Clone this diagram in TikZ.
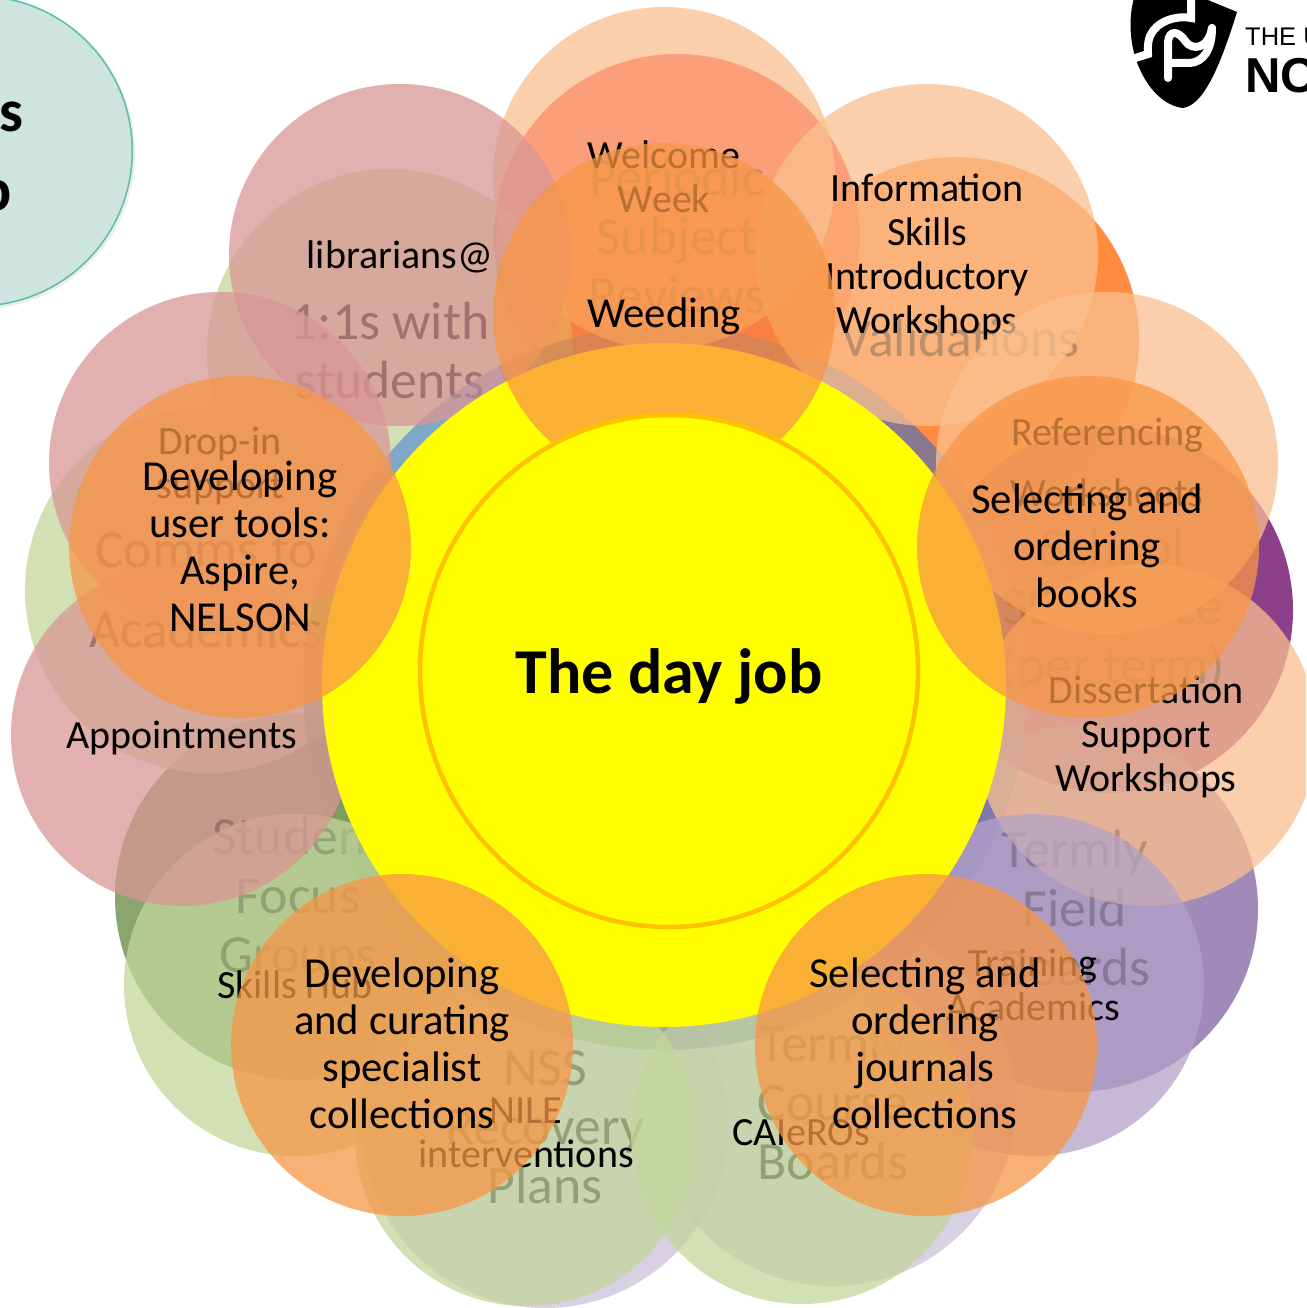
\documentclass[tikz,border=0pt]{standalone}
\usepackage{fontspec}
\usetikzlibrary{shapes.geometric}
\setmainfont{Carlito}
\newfontfamily\logofont{Liberation Sans}
\definecolor{pkA}{RGB}{217,150,148}
\definecolor{grA}{RGB}{195,214,155}
\definecolor{puA}{RGB}{179,162,199}
\definecolor{peA}{RGB}{250,192,143}
\definecolor{lavA}{RGB}{204,193,218}
\definecolor{fieldC}{RGB}{128,100,162}
\definecolor{schoolC}{RGB}{102,0,102}
\definecolor{focusC}{RGB}{99,135,62}
\definecolor{valC}{RGB}{255,102,0}
\definecolor{perC}{RGB}{255,0,0}
\definecolor{blueC}{RGB}{73,130,213}
\definecolor{blueT}{RGB}{55,80,150}
\definecolor{blueU}{RGB}{60,110,197}
\definecolor{blueR}{RGB}{105,107,170}
\definecolor{greenH}{RGB}{118,152,93}
\definecolor{orgC}{RGB}{247,150,70}
\definecolor{ringC}{RGB}{255,192,0}
\definecolor{sunC}{RGB}{255,255,0}
\definecolor{tealF}{RGB}{205,228,223}
\definecolor{tealD}{RGB}{98,191,169}
\tikzset{
  x=1pt,y=-1pt,
  disc/.style={circle,inner sep=0pt,draw=none,fill opacity=.75,text opacity=1},
  big/.style={disc,minimum size=366pt},
  small/.style={disc,minimum size=342pt},
  hubdisc/.style={circle,inner sep=0pt,minimum size=724pt,fill opacity=.6},
  bigtext/.style={align=center,inner sep=0pt,font=\fontsize{53.7}{59}\selectfont},
  midtext/.style={align=center,inner sep=0pt,font=\fontsize{40}{44}\selectfont},
  toptext/.style={align=center,inner sep=0pt,font=\fontsize{42.7}{47}\selectfont},
  tube/.style={white,line width=8pt,line cap=round},
}
\begin{document}
\begin{tikzpicture}
\useasboundingbox (0,0) rectangle (1306,1308);
\clip (0,0) rectangle (1306,1308);
\fill[white] (0,0) rectangle (1306,1308);
% teal corner circle
\fill[black!7] (-21.5,153) circle (156.5);
\node[circle,inner sep=0pt,minimum size=310pt,fill=tealF,draw=tealD,line width=1.6pt] (corner) at (-22.7,151) {};
\node[anchor=base east,inner sep=0pt,font=\fontsize{60}{60}\selectfont\bfseries] (cornerS) at (24,132) {s};
\node[anchor=base east,inner sep=0pt,font=\fontsize{60}{60}\selectfont\bfseries] (cornerP) at (12,210) {p};
% logo
\fill[black] (1134,-2) .. controls (1128,20) and (1130,45) .. (1138,65) .. controls (1148,90) and (1165,106) .. (1183,108) .. controls (1205,105) and (1222,60) .. (1237,12) -- (1203,-2) -- cycle;
\draw[tube] (1191,-6) -- (1191,18) .. controls (1175,15) and (1156,22) .. (1150,36) .. controls (1147,44) and (1148,50) .. (1148,54) -- (1132,59);
\draw[tube] (1168,78) -- (1168,42) .. controls (1169,30) and (1178,30) .. (1186,42) .. controls (1192,50) and (1208,50) .. (1212,28);
\draw[tube] (1168,63) -- (1190,63) .. controls (1203,62) and (1212,50) .. (1212,28);
\node[anchor=base west,inner sep=0pt,font=\logofont\fontsize{25.5}{26}\selectfont] (logoA) at (1245,46) {THE U};
\node[anchor=base west,inner sep=0pt,font=\logofont\fontsize{49}{49}\selectfont\bfseries] (logoB) at (1245,93) {NO};
% layer 1: big petals
\node[big,fill=perC] (p1) at (677,237) {};
\node[bigtext] (t1) at (677,236) {Periodic\\Subject\\Reviews};
\node[big,fill=valC] (p2) at (956,340) {};
\node[bigtext] (t2) at (960,338) {Validations};
\node[big,fill=schoolC] (p3) at (1110,610) {};
\node[bigtext] (t3) at (1113,610) {School\\SE Service\\(per term)};
\node[big,fill=fieldC] (p4) at (1075,909) {};
\node[bigtext] (t4) at (1075,908) {Termly\\Field\\Boards};
\node[big,fill=lavA] (p5) at (833,1103) {};
\node[bigtext] (t5) at (833,1102) {Termly\\Course\\Boards};
\node[big,fill=lavA] (p6) at (545,1125) {};
\node[bigtext] (t6) at (545,1127) {NSS\\Recovery\\Plans};
\node[big,fill=focusC] (p7) at (298,897) {};
\node[bigtext] (t7) at (298,899) {Student\\Focus\\Groups};
\node[big,fill=grA] (p8) at (208,590) {};
\node[bigtext,font=\fontsize{53.7}{80}\selectfont] (t8) at (206,590) {Comms to\\Academics};
\node[big,fill=grA] (p9) at (390,352) {};
\node[bigtext] (t9) at (390,351) {1:1s with\\students};
% layer 1 hub, tinted by sector
\begin{scope}
\clip (665,688) -- (170,-266) -- (-340,304) -- cycle;
\node[hubdisc,fill=blueC] (hubA) at (665,688) {};
\end{scope}
\begin{scope}
\clip (665,688) -- (170,-266) -- (1040,-356) -- cycle;
\node[hubdisc,fill=blueT] (hubT) at (665,688) {};
\end{scope}
\begin{scope}
\clip (665,688) -- (1040,-356) -- (1670,-356) -- (1670,304) -- cycle;
\node[hubdisc,fill=blueU] (hubU) at (665,688) {};
\end{scope}
\begin{scope}
\clip (665,688) -- (1670,304) -- (1670,1700) -- (665,1700) -- cycle;
\node[hubdisc,fill=blueR] (hubR) at (665,688) {};
\end{scope}
\begin{scope}
\clip (665,688) -- (665,1700) -- (-340,1700) -- (-340,304) -- cycle;
\node[hubdisc,fill=greenH] (hubL) at (665,688) {};
\end{scope}
% layer 2: small petals
\node[small,fill=peA] (q1) at (664,178) {};
\node[midtext] (u1) at (664,177) {Welcome\\Week};
\node[small,fill=peA] (q2) at (927,255) {};
\node[midtext] (u2) at (927,257) {Information\\Skills\\Introductory\\Workshops};
\node[small,fill=peA] (q3) at (1107,463) {};
\node[midtext,font=\fontsize{40}{61}\selectfont] (u3) at (1107,462) {Referencing\\Worksheets};
\node[small,fill=peA] (q4) at (1146,735) {};
\node[midtext] (u4) at (1146,737) {Dissertation\\Support\\Workshops};
\node[small,fill=puA] (q5) at (1033,985) {};
\node[midtext] (u5) at (1033,985) {Training\\Academics};
\node[small,fill=grA] (q6) at (802,1133) {};
\node[midtext] (u6) at (801,1133) {CAIeROs};
\node[small,fill=grA] (q7) at (526,1135) {};
\node[midtext] (u7) at (526,1133) {NILE\\interventions};
\node[small,fill=grA] (q8) at (295,985) {};
\node[midtext] (u8) at (295,985) {Skills Hub};
\node[small,fill=pkA] (q9) at (182,735) {};
\node[midtext] (u9) at (182,738) {Appointments};
\node[small,fill=pkA] (q10) at (220,463) {};
\node[midtext] (u10) at (220,466) {Drop-in\\support};
\node[small,fill=pkA] (q11) at (400,255) {};
\node[midtext] (u11) at (400,257) {librarians@};
% yellow hub
\node[circle,inner sep=0pt,minimum size=684pt,fill=sunC] (hubB) at (664,685) {};
% layer 3: orange petals
\node[small,fill=orgC] (r1) at (664,314) {};
\node[toptext] (v1) at (664,316) {Weeding};
\node[small,fill=orgC] (r2) at (1088,547) {};
\node[toptext] (v2) at (1087,546) {Selecting and\\ordering\\books};
\node[small,fill=orgC] (r3) at (926,1045) {};
\node[toptext] (v3) at (925,1043) {Selecting and\\ordering\\journals\\collections};
\node[small,fill=orgC] (r4) at (402,1045) {};
\node[toptext] (v4) at (402,1043) {Developing\\and curating\\specialist\\collections};
\node[small,fill=orgC] (r5) at (240,547) {};
\node[toptext] (v5) at (240,546) {Developing\\user tools:\\Aspire,\\NELSON};
% inner ring
\node[ellipse,inner sep=0pt,minimum width=498pt,minimum height=512pt,fill=sunC,draw=ringC,line width=4.5pt] (core) at (669,671) {};
\node[inner sep=0pt,font=\fontsize{64}{70}\selectfont\bfseries] (coreT) at (669,676) {The day job};
\end{tikzpicture}
\end{document}
